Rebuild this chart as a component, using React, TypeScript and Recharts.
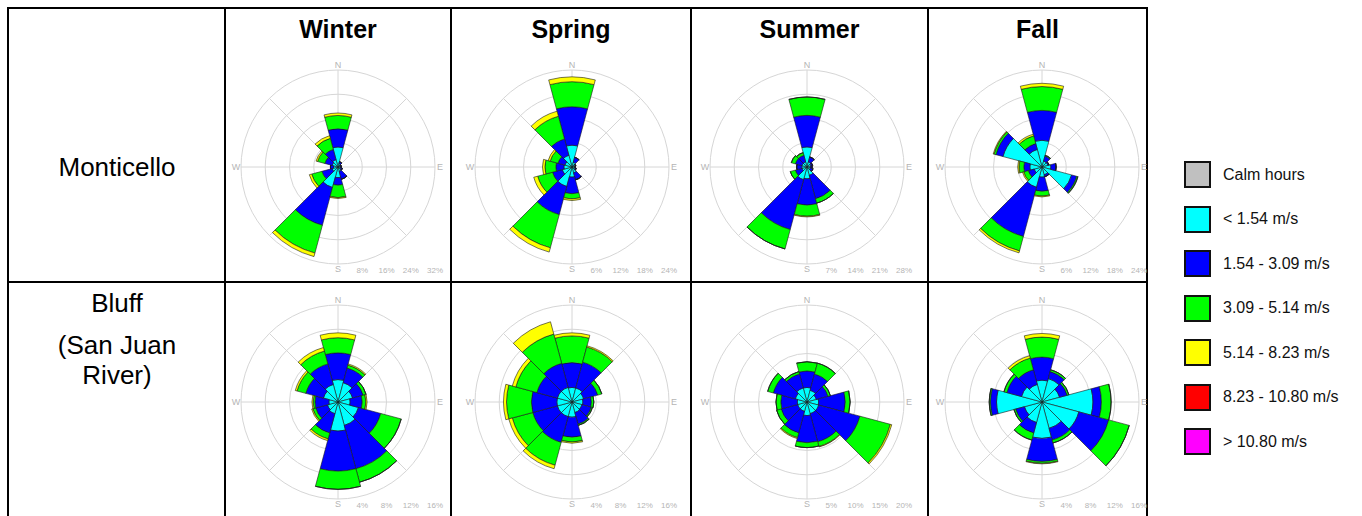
import { RadialBarChart, RadialBar, PolarGrid, PolarAngleAxis, PolarRadiusAxis } from 'recharts';

// 12 direction sectors, 30° each, clockwise from north
const directions = ['N', '30°', '60°', 'E', '120°', '150°', 'S', '210°', '240°', 'W', '300°', '330°'];
const compassLabels = ['N', 'E', 'S', 'W'];
const seasons = ['Winter', 'Spring', 'Summer', 'Fall'];

const classKeys = ['low', 'mid', 'high', 'top'];
const classColors = ['#00ffff', '#0000ff', '#00ff00', '#ffff00'];

const legendLabels = ['Calm hours', '< 1.54 m/s', '1.54 - 3.09 m/s', '3.09 - 5.14 m/s', '5.14 - 8.23 m/s', '8.23 - 10.80 m/s', '> 10.80 m/s'];
const legendColors = ['#c0c0c0', '#00ffff', '#0000ff', '#00ff00', '#ffff00', '#ff0000', '#ff00ff'];

// Monticello (% of hours per speed class)
const monWinterLow = [6.6, 1.2, 0.8, 0.8, 1.0, 1.5, 3.5, 7.0, 2.0, 1.5, 2.0, 2.5];
const monWinterMid = [6.0, 0.6, 0.3, 0.3, 0.5, 2.7, 2.5, 12.9, 3.5, 1.0, 2.5, 3.5];
const monWinterHigh = [4.4, 0, 0, 0, 0, 0, 4.1, 9.5, 3.5, 0, 2.5, 3.8];
const monWinterTop = [0.8, 0, 0, 0, 0, 0, 0.3, 1.2, 0.8, 0, 0.5, 0.9];
const monWinterTicks = [8, 16, 24, 32];

const monSpringLow = [5.4, 1.2, 0.8, 0.8, 0.8, 1.5, 2.5, 5.0, 2.5, 2.0, 1.8, 3.0];
const monSpringMid = [9.5, 1.3, 0.2, 0, 0.3, 1.8, 4.1, 7.2, 2.5, 2.0, 1.8, 4.2];
const monSpringHigh = [6.2, 0, 0, 0, 0, 0, 1.3, 8.5, 3.8, 2.7, 2.0, 5.8];
const monSpringTop = [1.2, 0, 0, 0, 0, 0, 0.4, 1.1, 1.0, 0.6, 0.5, 1.3];
const monSpringTicks = [6, 12, 18, 24];

const monSummerLow = [5.8, 1.5, 1.2, 1.0, 1.0, 2.5, 3.4, 3.8, 1.5, 1.5, 1.5, 1.5];
const monSummerMid = [9.1, 1.5, 0.5, 0.5, 0.8, 7.0, 7.6, 14.9, 2.0, 1.5, 2.0, 2.0];
const monSummerHigh = [5.3, 0, 0, 0, 0, 1.3, 3.2, 5.8, 1.5, 0, 1.2, 0.8];
const monSummerTop = [0, 0, 0, 0, 0, 0, 0.2, 0, 0, 0, 0, 0];
const monSummerTicks = [7, 14, 21, 28];

const monFallLow = [6.6, 1.5, 1.5, 2.2, 7.6, 2.0, 2.5, 5.2, 2.0, 3.0, 10.0, 4.5];
const monFallMid = [7.4, 1.3, 0.3, 1.3, 1.3, 0.5, 3.5, 12.6, 1.5, 1.5, 1.8, 1.5];
const monFallHigh = [5.9, 0.2, 0, 0, 0.3, 0, 1.2, 3.7, 1.2, 1.2, 0.5, 2.0];
const monFallTop = [0.8, 0, 0, 0, 0, 0, 0.2, 0.5, 0.3, 0.3, 0.2, 0.4];
const monFallTicks = [6, 12, 18, 24];

// Bluff (San Juan River)
const bluWinterLow = [3.7, 3.3, 2.5, 2.0, 3.5, 4.0, 4.8, 2.0, 1.8, 1.5, 2.5, 3.0];
const bluWinterMid = [4.4, 2.5, 1.8, 2.0, 3.8, 7.4, 6.6, 3.3, 2.0, 2.3, 3.0, 3.5];
const bluWinterHigh = [2.5, 0.5, 0.5, 0.6, 3.5, 2.3, 3.0, 1.0, 0.5, 0.3, 1.5, 2.2];
const bluWinterTop = [0.8, 0.2, 0, 0.2, 0, 0, 0, 0.3, 0.2, 0.2, 0.3, 0.6];
const bluWinterTicks = [4, 8, 12, 16];

const bluSpringLow = [2.4, 2.4, 2.0, 1.8, 1.7, 1.8, 2.5, 2.5, 2.5, 2.5, 2.5, 2.5];
const bluSpringMid = [4.1, 4.4, 2.4, 1.4, 1.6, 2.0, 3.3, 4.4, 4.2, 4.2, 3.5, 4.1];
const bluSpringHigh = [4.4, 2.6, 0.7, 0.4, 0.2, 0.2, 0.8, 3.9, 3.5, 4.1, 3.6, 5.0];
const bluSpringTop = [0.5, 0.2, 0, 0, 0, 0, 0.2, 0.6, 0.6, 0.5, 0.6, 2.1];
const bluSpringTicks = [4, 8, 12, 16];

const bluSummerLow = [3.0, 2.5, 2.0, 2.4, 2.5, 2.5, 2.8, 2.0, 2.0, 2.0, 2.5, 3.0];
const bluSummerMid = [3.4, 3.5, 2.5, 5.5, 8.8, 6.0, 5.6, 4.6, 3.5, 3.4, 4.7, 3.0];
const bluSummerHigh = [1.9, 2.3, 0.5, 1.0, 6.5, 1.0, 1.0, 1.0, 1.0, 1.0, 1.2, 0.5];
const bluSummerTop = [0, 0, 0, 0, 0.3, 0.1, 0, 0.2, 0, 0, 0, 0];
const bluSummerTicks = [5, 10, 15, 20];

const bluFallLow = [3.6, 4.0, 3.0, 8.4, 6.3, 4.5, 6.0, 3.5, 3.0, 7.5, 3.5, 3.0];
const bluFallMid = [3.8, 1.2, 1.3, 1.4, 5.1, 2.0, 3.8, 1.8, 1.5, 1.0, 2.5, 2.5];
const bluFallHigh = [3.3, 0.3, 0.3, 1.6, 3.5, 0.5, 0.3, 1.2, 0.3, 0.2, 0.5, 2.0];
const bluFallTop = [0.6, 0, 0, 0, 0, 0, 0.1, 0, 0, 0, 0, 0.4];
const bluFallTicks = [4, 8, 12, 16];

const gridAngles = [0, 45, 90, 135, 180, 225, 270, 315];

type RoseSeries = { low: number[]; mid: number[]; high: number[]; top: number[]; ticks: number[] };

const monticello: RoseSeries[] = [
  { low: monWinterLow, mid: monWinterMid, high: monWinterHigh, top: monWinterTop, ticks: monWinterTicks },
  { low: monSpringLow, mid: monSpringMid, high: monSpringHigh, top: monSpringTop, ticks: monSpringTicks },
  { low: monSummerLow, mid: monSummerMid, high: monSummerHigh, top: monSummerTop, ticks: monSummerTicks },
  { low: monFallLow, mid: monFallMid, high: monFallHigh, top: monFallTop, ticks: monFallTicks },
];
const bluff: RoseSeries[] = [
  { low: bluWinterLow, mid: bluWinterMid, high: bluWinterHigh, top: bluWinterTop, ticks: bluWinterTicks },
  { low: bluSpringLow, mid: bluSpringMid, high: bluSpringHigh, top: bluSpringTop, ticks: bluSpringTicks },
  { low: bluSummerLow, mid: bluSummerMid, high: bluSummerHigh, top: bluSummerTop, ticks: bluSummerTicks },
  { low: bluFallLow, mid: bluFallMid, high: bluFallHigh, top: bluFallTop, ticks: bluFallTicks },
];

const SIZE = 230;
const R = 97;
const FONT = '"Liberation Sans", Arial, sans-serif';
// sectors are drawn from the tick angle counter-clockwise, so the ticks sit
// half a sector off the sector centres; labels get rotated back by that much
const HALF_SECTOR = 15;

const columnEdges = [8, 225, 451, 691, 928, 1147];
const roseCenters = [338, 572, 807, 1042];
const rowCenters = [167, 402];

function CompassTick(props: any) {
  const { x, y, payload } = props;
  if (!compassLabels.includes(payload.value)) return null;
  const cx = typeof props.cx === 'number' ? props.cx : SIZE / 2;
  const cy = typeof props.cy === 'number' ? props.cy : SIZE / 2;
  const dx = x - cx;
  const dy = y - cy;
  const r = Math.hypot(dx, dy);
  const a = Math.atan2(-dy, dx) + (HALF_SECTOR * Math.PI) / 180;
  return (
    <text
      x={cx + r * Math.cos(a)}
      y={cy - r * Math.sin(a)}
      dy="0.35em"
      textAnchor="middle"
      fontSize={9}
      fill="#b5b5b5"
      fontFamily={FONT}
    >
      {payload.value}
    </text>
  );
}

function RingTick(props: any) {
  const { x, y, payload } = props;
  return (
    <text x={x} y={y + R + 9} textAnchor="middle" fontSize={8} fill="#b5b5b5" fontFamily={FONT}>
      {payload.value}%
    </text>
  );
}

function WindRose({ rose, cx, cy }: { rose: RoseSeries; cx: number; cy: number }) {
  const rows = directions.map((dir, i) => ({
    dir,
    low: rose.low[i],
    mid: rose.mid[i],
    high: rose.high[i],
    top: rose.top[i],
  }));
  const max = rose.ticks[rose.ticks.length - 1];
  return (
    <div style={{ position: 'absolute', left: cx - SIZE / 2, top: cy - SIZE / 2 }}>
      <RadialBarChart
        width={SIZE}
        height={SIZE}
        cx={SIZE / 2}
        cy={SIZE / 2}
        innerRadius={0}
        outerRadius={R}
        startAngle={90 - HALF_SECTOR}
        endAngle={90 - HALF_SECTOR - 360}
        layout="centric"
        barCategoryGap={0}
        data={rows}
        margin={{ top: 0, right: 0, bottom: 0, left: 0 }}
      >
        <PolarGrid gridType="circle" polarAngles={gridAngles} stroke="#d6d6d6" strokeWidth={1} />
        <PolarAngleAxis dataKey="dir" type="category" tick={CompassTick} tickLine={false} axisLine={false} tickSize={5} />
        <PolarRadiusAxis type="number" domain={[0, max]} ticks={rose.ticks} angle={0} axisLine={false} tickLine={false} tick={RingTick} />
        {classKeys.map((k, i) => (
          <RadialBar
            key={k}
            dataKey={k}
            stackId="speed"
            fill={classColors[i]}
            stroke="#1a1a1a"
            strokeWidth={0.6}
            isAnimationActive={false}
          />
        ))}
      </RadialBarChart>
    </div>
  );
}

function Line({ left, top, width, height }: { left: number; top: number; width: number; height: number }) {
  return <div style={{ position: 'absolute', left, top, width, height, background: '#000' }} />;
}

export default function App() {
  const tableRight = columnEdges[columnEdges.length - 1];
  return (
    <div style={{ position: 'absolute', left: 0, top: 0, width: 1362, height: 516, background: '#fff', overflow: 'hidden', fontFamily: FONT }}>
      {/* table frame */}
      <Line left={7} top={7} width={tableRight - 6} height={2} />
      <Line left={7} top={281} width={tableRight - 6} height={2} />
      {columnEdges.map((x) => (
        <Line key={x} left={x - 1} top={7} width={2} height={520} />
      ))}

      {seasons.map((s, i) => (
        <div
          key={s}
          style={{
            position: 'absolute',
            left: columnEdges[i + 1],
            width: columnEdges[i + 2] - columnEdges[i + 1],
            top: 14,
            lineHeight: '30px',
            fontSize: 25,
            fontWeight: 'bold',
            textAlign: 'center',
            color: '#000',
          }}
        >
          {s}
        </div>
      ))}

      <div style={{ position: 'absolute', left: 9, width: 216, top: rowCenters[0] - 15, lineHeight: '30px', fontSize: 26, textAlign: 'center' }}>
        Monticello
      </div>
      <div style={{ position: 'absolute', left: 9, width: 216, top: 288, lineHeight: '30px', fontSize: 26, textAlign: 'center' }}>Bluff</div>
      <div style={{ position: 'absolute', left: 9, width: 216, top: 330, lineHeight: '30px', fontSize: 26, textAlign: 'center' }}>(San Juan</div>
      <div style={{ position: 'absolute', left: 9, width: 216, top: 360, lineHeight: '30px', fontSize: 26, textAlign: 'center' }}>River)</div>

      {monticello.map((rose, i) => (
        <WindRose key={'m' + i} rose={rose} cx={roseCenters[i]} cy={rowCenters[0]} />
      ))}
      {bluff.map((rose, i) => (
        <WindRose key={'b' + i} rose={rose} cx={roseCenters[i]} cy={rowCenters[1]} />
      ))}

      {legendLabels.map((label, i) => (
        <div key={label} style={{ position: 'absolute', left: 1184, top: 161 + i * 44.5, height: 27, display: 'flex', alignItems: 'center' }}>
          <div style={{ width: 23, height: 23, border: '2px solid #111', background: legendColors[i] }} />
          <span style={{ marginLeft: 12, fontSize: 16, color: '#111' }}>{label}</span>
        </div>
      ))}
    </div>
  );
}
